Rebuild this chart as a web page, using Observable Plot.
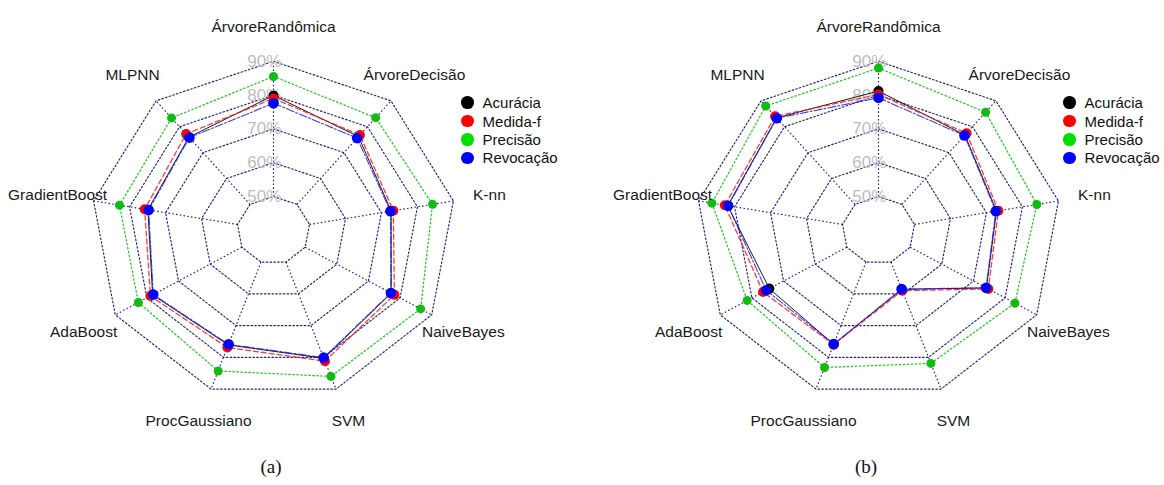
<!DOCTYPE html>
<html>
<head>
<meta charset="utf-8">
<script src="https://cdn.jsdelivr.net/npm/d3@7"></script>
<script src="https://cdn.jsdelivr.net/npm/@observablehq/plot@0.6"></script>
<style>
  body { margin: 0; background: #fff; font-family: "Liberation Sans", Arial, sans-serif; }
  #wrap { position: relative; width: 1164px; height: 485px; overflow: hidden; }
  .panel { position: absolute; top: 0; }
  .legend { position: absolute; font-size: 15px; color: #111; }
  .legend .row { display: flex; align-items: center; height: 18.4px; }
  .legend .dot { width: 12.6px; height: 12.6px; border-radius: 50%; margin-right: 9px; flex: none; }
  .cap { position: absolute; top: 456px; transform: translateX(-50%);
         font-family: "Liberation Serif", "Times New Roman", serif; font-size: 19px; color: #111; }
</style>
</head>
<body>
<div id="wrap"></div>
<script>
// Radar axes, clockwise from the top
const eixos = ["ÁrvoreRandômica", "ÁrvoreDecisão", "K-nn", "NaiveBayes", "SVM",
               "ProcGaussiano", "AdaBoost", "GradientBoost", "MLPNN"];
// Grid rings and their labels (the centre sits one step below 50%)
const niveis = [50, 60, 70, 80, 90];
const rotulosNivel = ["50%", "60%", "70%", "80%", "90%"];
const metricas = ["Acurácia", "Medida-f", "Precisão", "Revocação"];

// Panel (a)
const acuraciaA  = [79.9, 76.2, 72.7, 77.2, 80.3, 76.1, 78.2, 74.9, 76.0];
const medidaA    = [79.0, 76.8, 73.3, 78.2, 81.2, 76.9, 78.9, 75.8, 77.2];
const precisaoA  = [85.5, 83.5, 84.2, 86.5, 86.0, 84.3, 82.7, 82.8, 83.4];
const revocacaoA = [77.6, 75.6, 72.5, 77.1, 80.1, 75.9, 78.0, 74.7, 75.8];

// Panel (b)
const acuraciaB  = [81.2, 76.8, 72.8, 74.1, 58.6, 75.9, 74.5, 81.9, 83.4];
const medidaB    = [80.2, 77.5, 73.3, 74.7, 59.0, 76.0, 76.5, 82.7, 84.0];
const precisaoB  = [88.0, 85.6, 84.0, 83.1, 81.9, 83.2, 81.5, 86.3, 88.0];
const revocacaoB = [79.2, 76.6, 72.6, 74.0, 58.5, 75.8, 75.5, 81.8, 83.3];

const estilos = [
  {cor: "#000000", ponto: "#000000", tr: "none",       lw: 1.0, op: 0.9,  r: 5},
  {cor: "#ff1a1a", ponto: "#ff0000", tr: "5,3",        lw: 1.3, op: 0.85, r: 5},
  {cor: "#11cc11", ponto: "#11bb11", tr: "1.5,2.5",    lw: 1.2, op: 1.0,  r: 4.5},
  {cor: "#1a1aff", ponto: "#0000ff", tr: "8,2,2,2",    lw: 1.1, op: 0.85, r: 5.3}
];
const legendaCores = ["#000000", "#ff0000", "#00e000", "#0000ff"];

const vMin = 40, vMax = 90;            // centre and outer ring
const raio = v => (v - vMin) / (vMax - vMin);
const ang = i => (2 * Math.PI * i) / eixos.length;
const px = (r, i) => r * Math.sin(ang(i));
const py = (r, i) => r * Math.cos(ang(i));

// Panel geometry: width, height, centre and radius in pixels
const W = 582, H = 450, CY = 229.8, RX = 182.7, RY = 169;
const grade = {stroke: "#14148a", strokeWidth: 1.15, strokeDasharray: "1.6,2.2", strokeOpacity: 0.95};

function radar(series, cx) {
  const anel = [];
  niveis.forEach((n, k) => {
    for (let i = 0; i <= eixos.length; i++) {
      const j = i % eixos.length;
      anel.push({x: px(raio(n), j), y: py(raio(n), j), z: k});
    }
  });
  const raios = eixos.map((e, i) => ({
    x1: px(raio(niveis[0]), i), y1: py(raio(niveis[0]), i),
    x2: px(1, i), y2: py(1, i)
  }));
  const nomes = eixos.map((e, i) => ({x: px(1.2, i), y: py(1.2, i), t: e}));
  const rot = niveis.map((n, k) => ({x: -0.05, y: raio(n), t: rotulosNivel[k]}));

  const marcas = [
    Plot.line(anel, {x: "x", y: "y", z: "z", ...grade}),
    Plot.link(raios, {x1: "x1", y1: "y1", x2: "x2", y2: "y2", ...grade}),
    Plot.text(rot, {x: "x", y: "y", text: "t", fill: "#bdbdbd", fontSize: 17,
                    textAnchor: "middle", lineAnchor: "middle"})
  ];

  series.forEach((vals, s) => {
    const st = estilos[s];
    const pts = vals.map((v, i) => ({x: px(raio(v), i), y: py(raio(v), i)}));
    const fechado = pts.concat([pts[0]]);
    marcas.push(Plot.line(fechado, {x: "x", y: "y", stroke: st.cor, strokeWidth: st.lw,
      strokeOpacity: st.op, strokeDasharray: st.tr === "none" ? null : st.tr}));
    marcas.push(Plot.dot(pts, {x: "x", y: "y", r: st.r, fill: st.ponto, stroke: "none"}));
  });

  marcas.push(Plot.text(nomes, {x: "x", y: "y", text: "t", fill: "#1a1a1a", fontSize: 15.5,
                                textAnchor: "middle", lineAnchor: "middle"}));

  return Plot.plot({
    width: W, height: H,
    margin: 0,
    x: {domain: [-cx / RX, (W - cx) / RX], range: [0, W], axis: null},
    y: {domain: [-(H - CY) / RY, CY / RY], range: [H, 0], axis: null},
    style: {fontFamily: '"Liberation Sans", Arial, sans-serif', background: "transparent"},
    marks: marcas
  });
}

const wrap = document.getElementById("wrap");

function painel(series, left, cx, dotX, capX, capText) {
  const div = document.createElement("div");
  div.className = "panel";
  div.style.left = left + "px";
  div.appendChild(radar(series, cx));
  const leg = document.createElement("div");
  leg.className = "legend";
  leg.style.left = (dotX - 6.3) + "px";
  leg.style.top = (102.7 - 9.2) + "px";
  metricas.forEach((m, k) => {
    const row = document.createElement("div");
    row.className = "row";
    const d = document.createElement("span");
    d.className = "dot";
    d.style.background = legendaCores[k];
    const t = document.createElement("span");
    t.textContent = m;
    row.appendChild(d); row.appendChild(t);
    leg.appendChild(row);
  });
  div.appendChild(leg);
  wrap.appendChild(div);
  const cap = document.createElement("div");
  cap.className = "cap";
  cap.style.left = capX + "px";
  cap.textContent = capText;
  wrap.appendChild(cap);
}

painel([acuraciaA, medidaA, precisaoA, revocacaoA], 0, 273, 467.3, 271, "(a)");
painel([acuraciaB, medidaB, precisaoB, revocacaoB], 582, 296, 487.3, 866, "(b)");
</script>
</body>
</html>
